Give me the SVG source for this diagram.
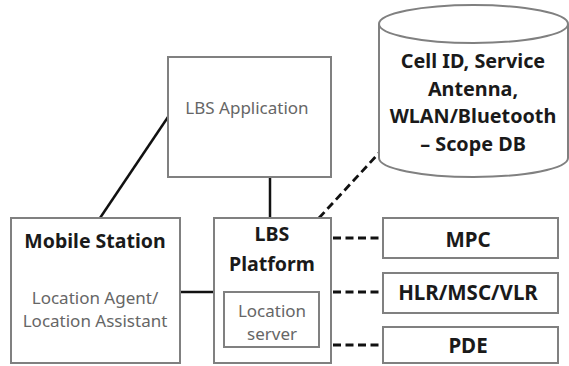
<svg xmlns="http://www.w3.org/2000/svg" width="569" height="366" viewBox="0 0 569 366">
<style>
.box{fill:#fff;stroke:#808080;stroke-width:2}
.b{font-family:"Noto Sans","Open Sans",sans-serif;font-weight:bold;fill:#1a1a1a;text-anchor:middle;dominant-baseline:central}
.g{font-family:"Noto Sans","Open Sans",sans-serif;fill:#666;text-anchor:middle;dominant-baseline:central}
.solid{stroke:#111;stroke-width:2.5;fill:none}
.dash{stroke:#111;stroke-width:2.8;fill:none;stroke-dasharray:8 4.5}
</style>
<rect width="569" height="366" fill="#fff"/>
<g id="connectors">
<line class="solid" x1="100" y1="218" x2="168" y2="117"/>
<line class="solid" x1="270" y1="177" x2="270" y2="218"/>
<line class="solid" x1="180" y1="292" x2="214" y2="292"/>
<line class="dash" x1="319" y1="218" x2="379" y2="153"/>
<line class="dash" x1="333" y1="238" x2="383" y2="238"/>
<line class="dash" x1="333" y1="292" x2="383" y2="292"/>
<line class="dash" x1="333" y1="345" x2="383" y2="345"/>
</g>
<g id="app">
<rect class="box" x="168" y="57" width="163" height="120"/>
<text class="g" x="247" y="107" font-size="17">LBS Application</text>
</g>
<g id="db">
<path class="box" d="M379,24 L379,158 A94.5,19 0 0 0 568,158 L568,24"/>
<ellipse class="box" cx="473.5" cy="24" rx="94.5" ry="19"/>
<text class="b" x="473" y="60" font-size="19.8">Cell ID, Service</text>
<text class="b" x="473" y="88" font-size="19.8">Antenna,</text>
<text class="b" x="473" y="115" font-size="19.8">WLAN/Bluetooth</text>
<text class="b" x="473" y="143" font-size="19.8">– Scope DB</text>
</g>
<g id="mobile">
<rect class="box" x="11" y="218" width="169" height="145"/>
<text class="b" x="95" y="240" font-size="19.5">Mobile Station</text>
<text class="g" x="95" y="297" font-size="17">Location Agent/</text>
<text class="g" x="95" y="320" font-size="17">Location Assistant</text>
</g>
<g id="platform">
<rect class="box" x="214" y="218" width="117" height="145"/>
<text class="b" x="272" y="233" font-size="19.6">LBS</text>
<text class="b" x="272" y="263" font-size="19.6">Platform</text>
<rect class="box" x="224" y="292" width="95" height="55"/>
<text class="g" x="272" y="310" font-size="17">Location</text>
<text class="g" x="272" y="333" font-size="17">server</text>
</g>
<g id="mpc">
<rect class="box" x="383" y="218" width="175" height="40"/>
<text class="b" x="468" y="239" font-size="20.5">MPC</text>
</g>
<g id="hlr">
<rect class="box" x="383" y="273" width="175" height="40"/>
<text class="b" x="468" y="292" font-size="20.5">HLR/MSC/VLR</text>
</g>
<g id="pde">
<rect class="box" x="383" y="327" width="175" height="36"/>
<text class="b" x="468" y="345" font-size="20.5">PDE</text>
</g>
</svg>
